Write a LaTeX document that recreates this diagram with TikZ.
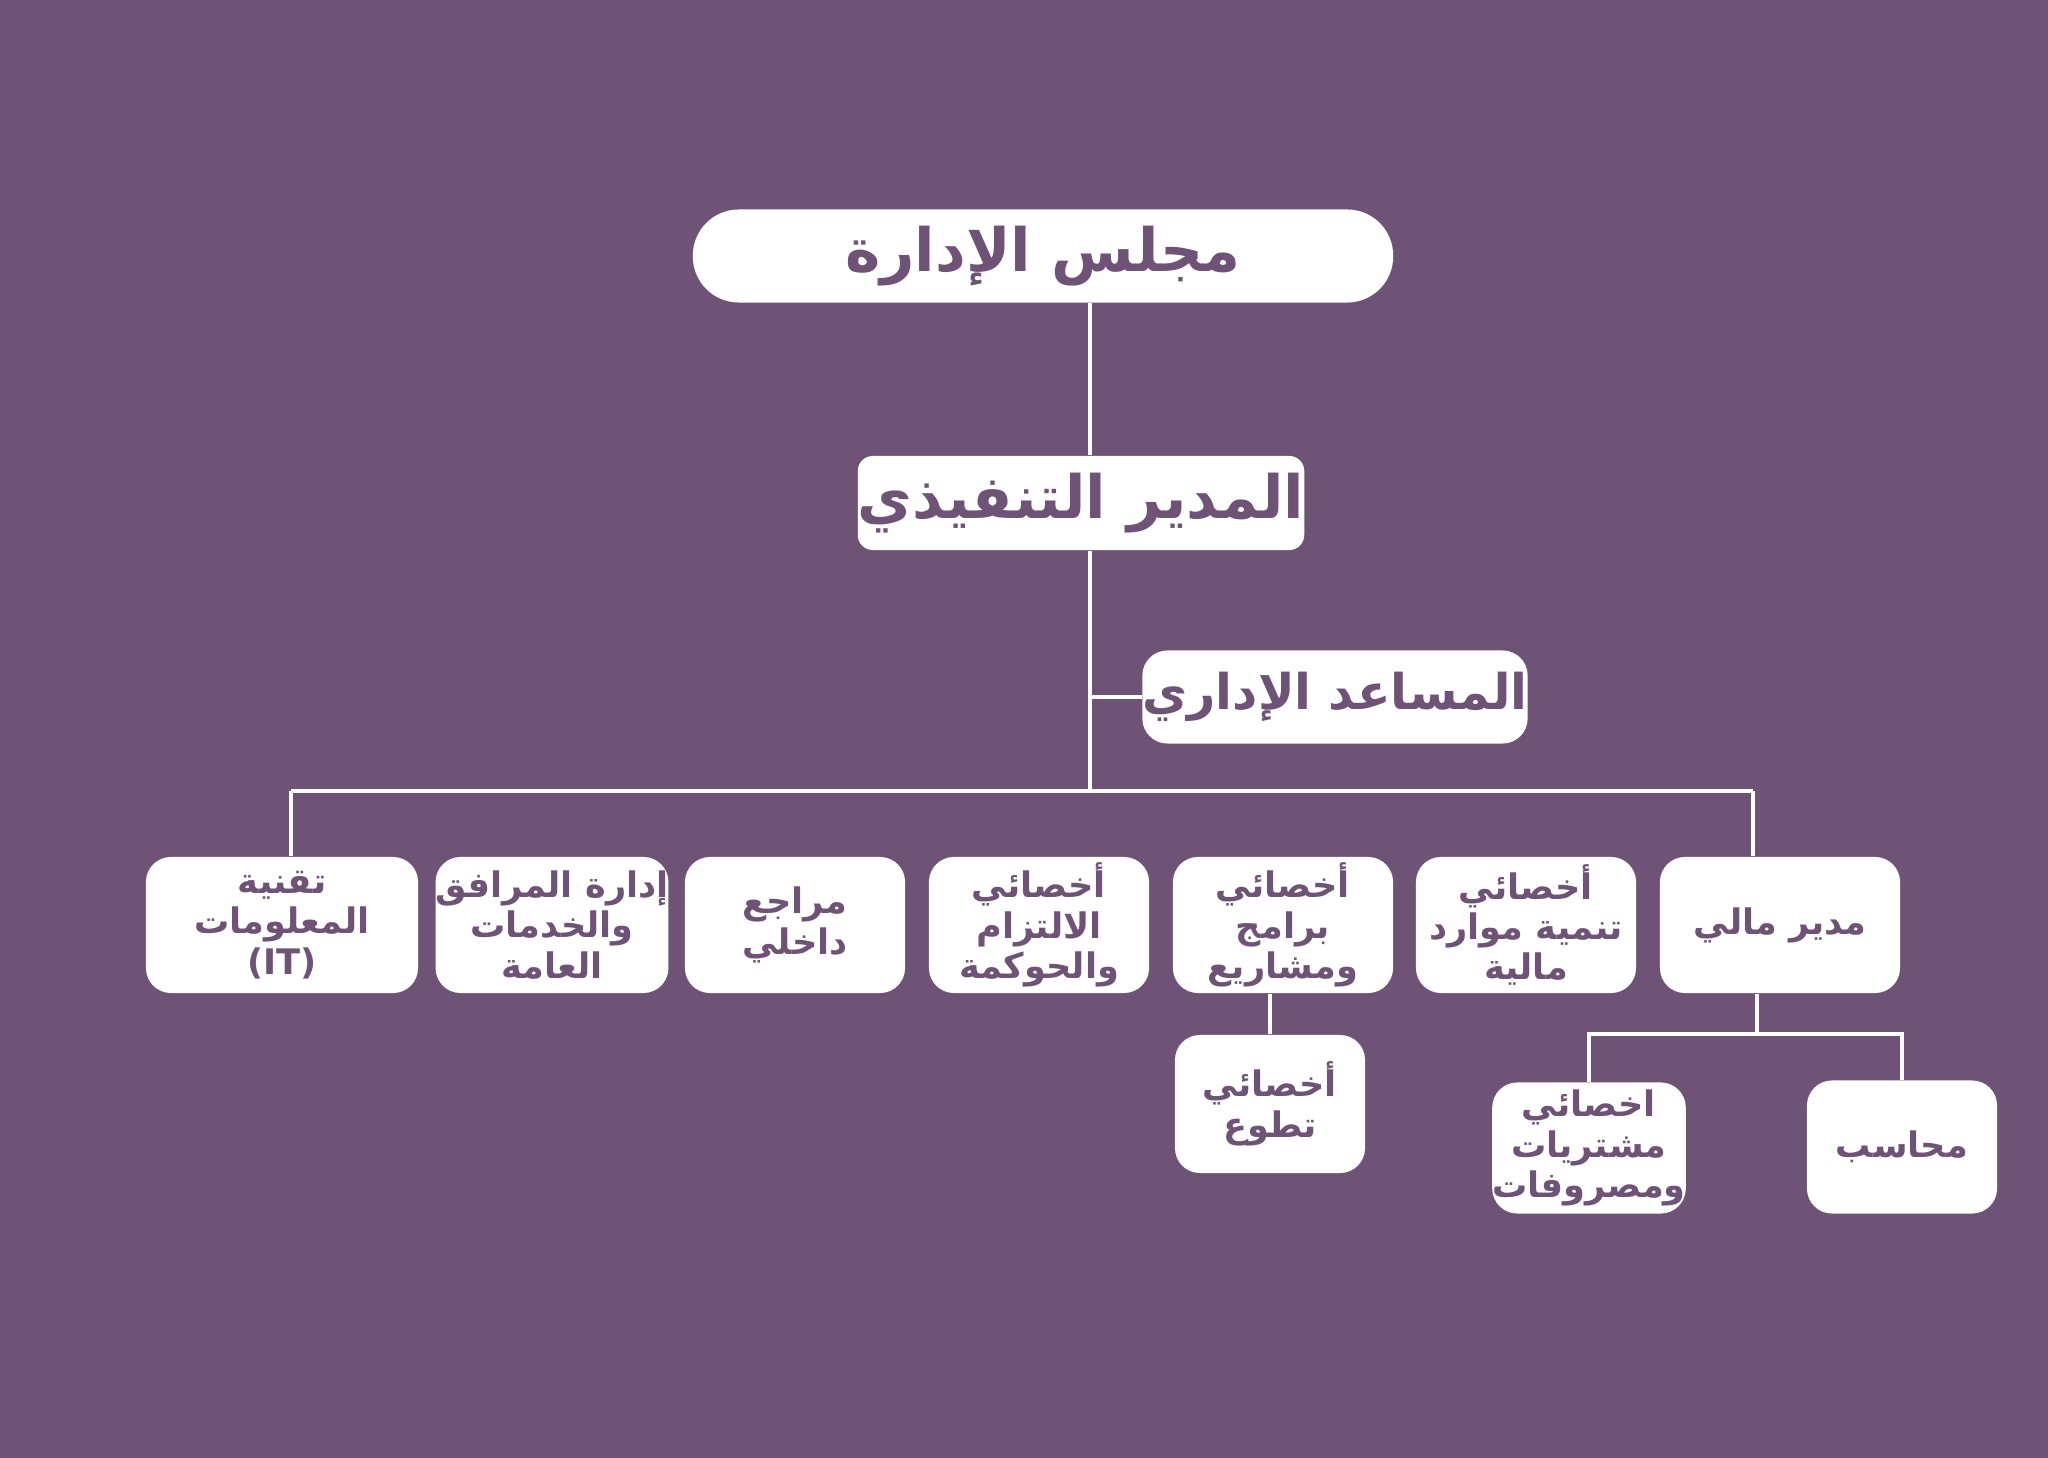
\documentclass[tikz,border=0pt]{standalone}
\usepackage{fontspec}
\newfontfamily\arabicfont[Script=Arabic]{DejaVu Sans}
\TeXXeTstate=1
\newcommand{\ar}[1]{\beginR #1\endR}
\definecolor{bg}{HTML}{6F5377}
\definecolor{tx}{HTML}{6F5377}
\begin{document}
\begin{tikzpicture}[x=0.01cm,y=-0.01cm,
 box/.style={fill=white,rounded corners=0.25cm,text=tx,font=\arabicfont\bfseries\fontsize{10}{11.5}\selectfont,align=center,inner sep=0pt},
 ln/.style={draw=white,line width=0.9pt}]
\fill[bg] (0,0) rectangle (2048,1458);
\node[box,minimum width=7cm,minimum height=0.93cm,rounded corners=0.46cm,font=\arabicfont\bfseries\fontsize{17}{20}\selectfont] (board) at (1043,256) {\ar{مجلس الإدارة}};
\node[box,minimum width=4.42cm,minimum height=0.94cm,rounded corners=0.15cm,font=\arabicfont\bfseries\fontsize{17}{20}\selectfont] (ceo) at (1081,503) {\ar{المدير التنفيذي}};
\node[box,minimum width=3.44cm,minimum height=0.93cm,font=\arabicfont\bfseries\fontsize{14}{16}\selectfont] (asst) at (1335,697) {\ar{المساعد الإداري}};
\coordinate (j1) at (1090,303);
\coordinate (j2) at (1090,697);
\coordinate (j3) at (1090,791);
\coordinate (hl) at (291,791);
\coordinate (hr) at (1753,791);
\node[box,minimum width=2.72cm,minimum height=1.36cm] (it) at (282,925) {\ar{تقنية}\\\ar{المعلومات}\\(IT)};
\node[box,minimum width=2.2cm,minimum height=1.36cm] (fac) at (552,925) {\ar{إدارة المرافق}\\\ar{والخدمات}\\\ar{العامة}};
\node[box,minimum width=2.2cm,minimum height=1.36cm] (aud) at (795,925) {\ar{مراجع}\\\ar{داخلي}};
\node[box,minimum width=2.2cm,minimum height=1.36cm] (comp) at (1039,925) {\ar{أخصائي}\\\ar{الالتزام}\\\ar{والحوكمة}};
\node[box,minimum width=2.2cm,minimum height=1.36cm] (prog) at (1283,925) {\ar{أخصائي}\\\ar{برامج}\\\ar{ومشاريع}};
\node[box,minimum width=2.2cm,minimum height=1.36cm] (res) at (1526,925) {\ar{أخصائي}\\\ar{تنمية موارد}\\\ar{مالية}};
\node[box,minimum width=2.4cm,minimum height=1.36cm] (fin) at (1780,925) {\ar{مدير مالي}};
\node[box,minimum width=1.9cm,minimum height=1.38cm] (vol) at (1270,1104) {\ar{أخصائي}\\\ar{تطوع}};
\node[box,minimum width=1.9cm,minimum height=1.31cm] (pur) at (1589,1148) {\ar{اخصائي}\\\ar{مشتريات}\\\ar{ومصروفات}};
\node[box,minimum width=1.9cm,minimum height=1.33cm] (acc) at (1902,1147) {\ar{محاسب}};
\draw[ln] (board.south -| j1) -- (ceo.north -| j1);
\draw[ln] (ceo.south -| j1) -- (j3);
\draw[ln] (j2) -- (asst.west);
\draw[ln] (hl) -- (hr);
\draw[ln] (hl) -- (it.north -| hl);
\draw[ln] (hr) -- (fin.north -| hr);
\draw[ln] (prog.south -| vol) -- (vol.north);
\coordinate (f1) at (1757,1034);
\draw[ln] (fin.south -| f1) -- (f1);
\draw[ln] (pur.north) |- (f1) -| (acc.north);
\end{tikzpicture}
\end{document}
